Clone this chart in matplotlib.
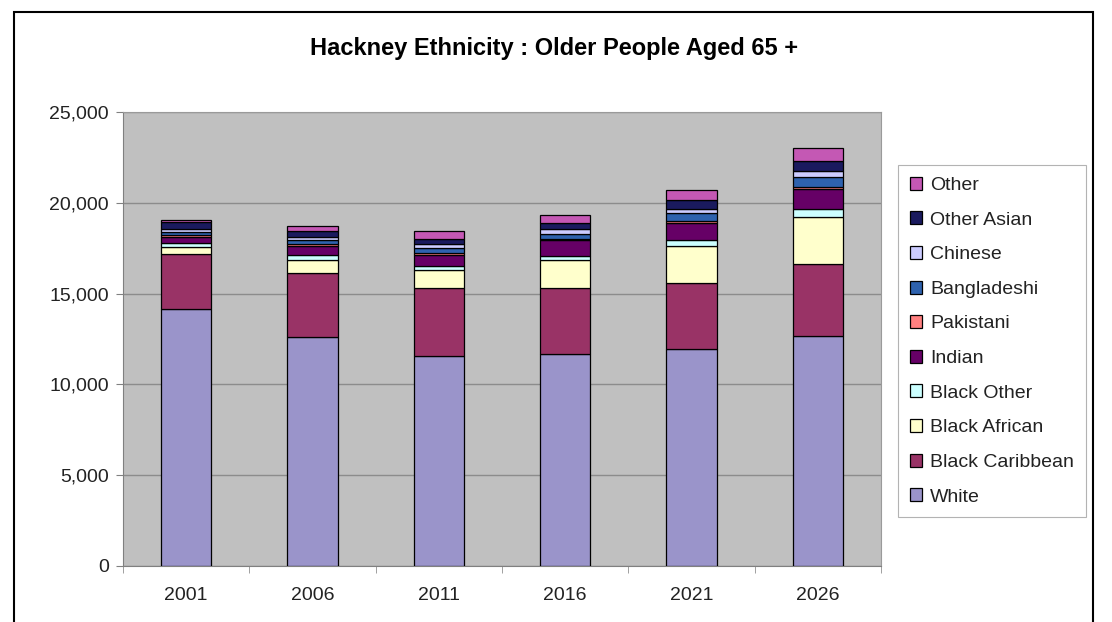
import matplotlib.pyplot as plt
import numpy as np
from matplotlib.patches import Rectangle

plt.rcParams['font.family'] = ['Liberation Sans', 'DejaVu Sans']

years = ['2001', '2006', '2011', '2016', '2021', '2026']

groups = ['White', 'Black Caribbean', 'Black African', 'Black Other', 'Indian',
          'Pakistani', 'Bangladeshi', 'Chinese', 'Other Asian', 'Other']

white = [14130, 12590, 11560, 11660, 11930, 12670]
black_caribbean = [3050, 3530, 3730, 3670, 3640, 3940]
black_african = [370, 730, 1010, 1525, 2055, 2590]
black_other = [220, 275, 220, 220, 330, 460]
indian = [370, 500, 600, 850, 920, 1080]
pakistani = [100, 100, 100, 100, 100, 150]
bangladeshi = [150, 250, 300, 275, 460, 550]
chinese = [150, 150, 200, 240, 220, 330]
other_asian = [400, 300, 300, 330, 510, 550]
other = [100, 300, 420, 460, 550, 680]

series = [white, black_caribbean, black_african, black_other, indian,
          pakistani, bangladeshi, chinese, other_asian, other]

colors = ['#9A94CA', '#993366', '#FFFFCC', '#CCFFFF', '#660066',
          '#FF8080', '#2E62AE', '#CCCCFF', '#1A1A5E', '#C458B4']

fig = plt.figure(figsize=(11.12, 6.22), dpi=100)
fig.patch.set_facecolor('white')

# outer chart frame
fig.patches.append(Rectangle((14 / 1112, -0.05), (1093 - 14) / 1112, 1 + 0.05 - 12 / 622,
                             transform=fig.transFigure, fill=False,
                             edgecolor='black', linewidth=1.5))

ax = fig.add_axes([123 / 1112, 1 - 566 / 622, (881 - 123) / 1112, (566 - 112) / 622])
ax.set_facecolor('#C0C0C0')

x = np.arange(len(years))
bottom = np.zeros(len(years))
handles = []
for vals, name, c in zip(series, groups, colors):
    b = ax.bar(x, vals, width=0.4, bottom=bottom, color=c, edgecolor='black',
               linewidth=0.9, label=name, zorder=3)
    handles.append(b)
    bottom += np.array(vals)

ax.set_xlim(-0.5, len(years) - 0.5)
ax.set_ylim(0, 25000)
ax.set_yticks(np.arange(0, 25001, 5000))
ax.set_yticklabels([f'{v:,}' for v in range(0, 25001, 5000)])
ax.yaxis.grid(True, color='#8C8C8C', linewidth=1, zorder=0)
ax.set_xticks(x)
ax.set_xticklabels(years)
ax.set_xticks(np.arange(-0.5, len(years)), minor=True)
ax.tick_params(axis='x', which='major', length=0, pad=15, labelsize=14, labelcolor='#222222')
ax.tick_params(axis='x', which='minor', length=5, color='#909090')
ax.tick_params(axis='y', length=5, color='#808080', labelsize=14, pad=5, labelcolor='#222222')

for side in ['top', 'right']:
    ax.spines[side].set_color('#9A9A9A')
for side in ['left', 'bottom']:
    ax.spines[side].set_color('#808080')

fig.text(554 / 1112, 1 - 48 / 622, 'Hackney Ethnicity : Older People Aged 65 +',
         ha='center', va='center', fontsize=17, fontweight='bold')

leg = fig.legend(handles[::-1], groups[::-1], loc='upper left',
                 bbox_to_anchor=(898 / 1112, 1 - 165 / 622), frameon=True,
                 fontsize=14, handlelength=0.65, handleheight=0.65,
                 handletextpad=0.4, labelspacing=0.89, borderpad=0.6,
                 borderaxespad=0, fancybox=False, edgecolor='#A0A0A0')
leg.get_frame().set_linewidth(0.8)
for t in leg.get_texts():
    t.set_color('#222222')

fig.savefig('out.png', dpi=100)
